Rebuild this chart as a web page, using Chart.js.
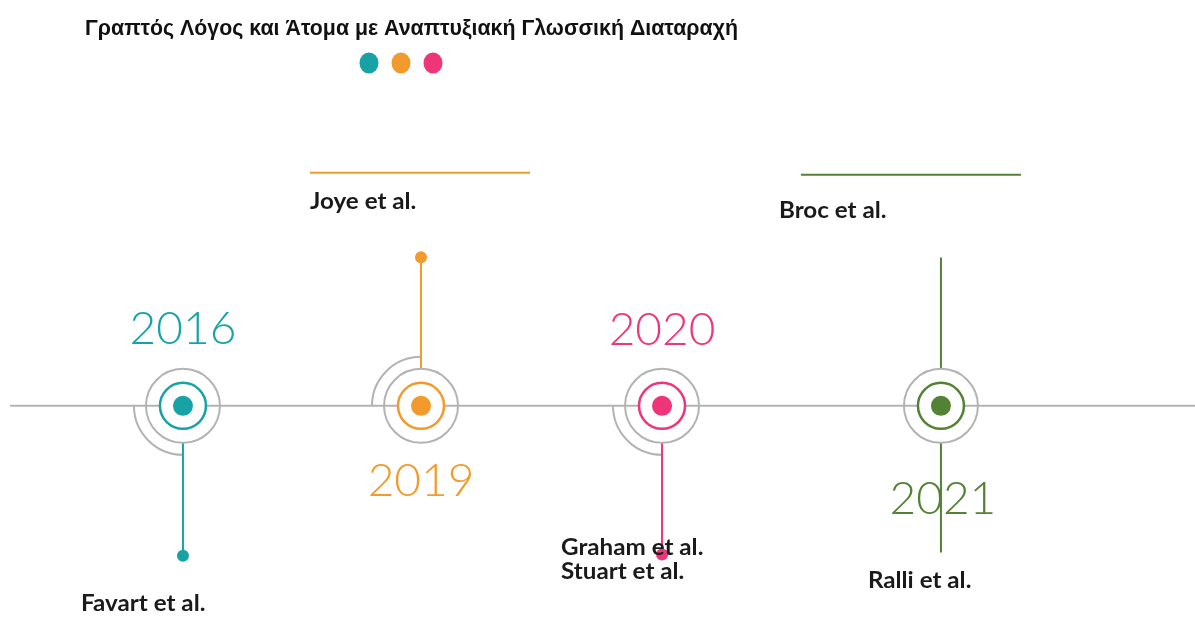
<!DOCTYPE html>
<html><head><meta charset="utf-8">
<script src="https://cdn.jsdelivr.net/npm/chart.js@4/dist/chart.umd.min.js"></script>
<style>html,body{margin:0;padding:0;background:#fff;overflow:hidden}#wrap{width:1195px;height:640px}</style>
</head><body><div id="wrap"><canvas id="c" width="1195" height="640"></canvas></div>
<script>
// ---------- data ----------
const titleText = 'Γραπτός Λόγος και Άτομα με Αναπτυξιακή Γλωσσική Διαταραχή';
const years = ['2016', '2019', '2020', '2021'];
const eventX = [15.31, 35.23, 55.40, 78.74];          // position along the timeline (0-100)
const stemTop = [null, 3.81, null, 3.80];              // upper stem end (timeline = 0)
const stemBottom = [-3.84, null, -3.81, -3.76];        // lower stem end
const dotAtEnd = [-3.84, 3.81, -3.81, null];           // small dot at the stem tip
const authorsAbove = [[], ['Joye et al.'], [], ['Broc et al.']];
const authorsBelow = [['Favart et al.'], [], ['Graham et al.', 'Stuart et al.'], ['Ralli et al.']];
const colors = ['#17A3A6', '#F29B2C', '#EE3579', '#548235'];
const legendColors = ['#17A3A6', '#F29B2C', '#EE3579'];
const axisRange = [0.84, 100];

// ---------- layout (styles / offsets in px) ----------
const GRAY = '#B3B3B3';
const yearOffset = [[0, -77], [0, 75], [0, -76], [2, 93]];
const aboveOffset = [null, [-111, -197], null, [-162, -188]];
const belowOffset = [[-102, 205], null, [-101, 149], [-73, 182]];
const lineGap = 24;
const textHScale = 1.1;
const topRule = [null, [-111, 109, -233], null, [-140, 80, -231]];
const arcQuadrant = ['LL', 'UL', 'LL', null];

const datasets = [];
// stems
eventX.forEach((x, i) => {
  const pts = [];
  if (stemTop[i] !== null) pts.push({x, y: stemTop[i]});
  pts.push({x, y: 0});
  if (stemBottom[i] !== null) pts.push({x, y: stemBottom[i]});
  datasets.push({data: pts, showLine: true, borderColor: colors[i], borderWidth: 2,
    pointRadius: 0, order: 20});
});
// outer gray rings
datasets.push({data: eventX.map(x => ({x, y: 0})), pointRadius: 37, borderColor: GRAY,
  borderWidth: 2, backgroundColor: '#fff', order: 10});
// timeline axis
datasets.push({data: [{x: axisRange[0], y: 0}, {x: axisRange[1], y: 0}], showLine: true,
  borderColor: GRAY, borderWidth: 2, pointRadius: 0, order: 8});
// inner colored rings
datasets.push({data: eventX.map(x => ({x, y: 0})), pointRadius: 23, borderColor: colors,
  borderWidth: 2.5, backgroundColor: '#fff', order: 5});
// center dots
datasets.push({data: eventX.map(x => ({x, y: 0})), pointRadius: 10, borderWidth: 0,
  backgroundColor: colors, order: 3});
// tip dots
const tipPts = [], tipCols = [];
eventX.forEach((x, i) => { if (dotAtEnd[i] !== null) { tipPts.push({x, y: dotAtEnd[i]}); tipCols.push(colors[i]); } });
datasets.push({data: tipPts, pointRadius: 6, borderWidth: 0, backgroundColor: tipCols, order: 3});

function drawScaled(ctx, text, x, y, sx) {
  ctx.save(); ctx.translate(x, y); ctx.scale(sx, 1); ctx.fillText(text, 0, 0); ctx.restore();
}

const decor = {
  id: 'decor',
  beforeDatasetsDraw(chart) {
    const {ctx, scales: {x: xs, y: ys}} = chart;
    const y0 = ys.getPixelForValue(0);
    ctx.save();
    ctx.strokeStyle = GRAY; ctx.lineWidth = 2;
    eventX.forEach((v, i) => {
      const q = arcQuadrant[i]; if (!q) return;
      const cx = xs.getPixelForValue(v);
      ctx.beginPath();
      if (q === 'LL') ctx.arc(cx, y0, 49, Math.PI / 2, Math.PI);
      else ctx.arc(cx, y0, 49, Math.PI, Math.PI * 1.5);
      ctx.stroke();
    });
    ctx.restore();
  },
  afterDatasetsDraw(chart) {
    const {ctx, scales: {x: xs, y: ys}} = chart;
    const y0 = ys.getPixelForValue(0);
    ctx.save();
    // title
    ctx.font = 'bold 22px "Liberation Sans"';
    ctx.fillStyle = '#111';
    ctx.textBaseline = 'alphabetic'; ctx.textAlign = 'left';
    const w = ctx.measureText(titleText).width;
    drawScaled(ctx, titleText, 85, 35, 653 / w);
    // legend dots
    legendColors.forEach((c, k) => {
      ctx.beginPath(); ctx.fillStyle = c;
      ctx.ellipse(369 + 32 * k, 63, 9.5, 10.5, 0, 0, Math.PI * 2); ctx.fill();
    });
    // rules above labels
    eventX.forEach((v, i) => {
      const r = topRule[i]; if (!r) return;
      const cx = xs.getPixelForValue(v);
      ctx.beginPath(); ctx.strokeStyle = colors[i]; ctx.lineWidth = 2;
      ctx.moveTo(cx + r[0], y0 + r[2]); ctx.lineTo(cx + r[1], y0 + r[2]); ctx.stroke();
    });
    // years
    ctx.textAlign = 'center'; ctx.textBaseline = 'middle';
    ctx.font = '300 46px Lato';
    years.forEach((t, i) => {
      const cx = xs.getPixelForValue(eventX[i]);
      ctx.fillStyle = colors[i];
      ctx.fillText(t, cx + yearOffset[i][0], y0 + yearOffset[i][1]);
    });
    // authors
    ctx.textAlign = 'left'; ctx.textBaseline = 'alphabetic';
    ctx.font = 'bold 22px Lato'; ctx.fillStyle = '#1a1a1a';
    eventX.forEach((v, i) => {
      const cx = xs.getPixelForValue(v);
      if (aboveOffset[i]) authorsAbove[i].forEach((t, k) =>
        drawScaled(ctx, t, cx + aboveOffset[i][0], y0 + aboveOffset[i][1] + k * lineGap, textHScale));
      if (belowOffset[i]) authorsBelow[i].forEach((t, k) =>
        drawScaled(ctx, t, cx + belowOffset[i][0], y0 + belowOffset[i][1] + k * lineGap, textHScale));
    });
    ctx.restore();
  }
};

new Chart(document.getElementById('c'), {
  type: 'scatter',
  data: {datasets},
  options: {
    responsive: false, animation: false, events: [], devicePixelRatio: 1,
    layout: {padding: 0, autoPadding: false},
    plugins: {legend: {display: false}, tooltip: {enabled: false}, title: {display: false}},
    scales: {
      x: {type: 'linear', min: 0, max: 100, display: false},
      y: {type: 'linear', min: -6, max: 10.4, display: false}
    }
  },
  plugins: [decor]
});
</script></body></html>
